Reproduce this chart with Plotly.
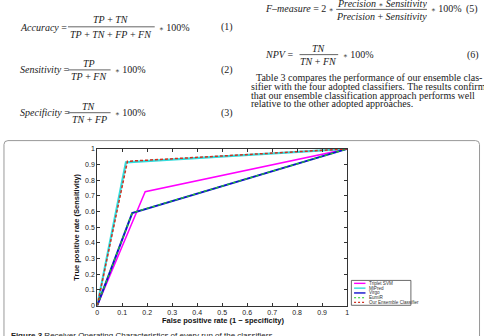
import plotly.graph_objects as go

W, H = 484, 336

# ROC data (false positive rate, true positive rate)
classifiers = ["Triplet SVM", "MiPred", "Virgo", "EumiR", "Our Ensemble Classifier"]
fpr_triplet = [0, 0.192, 1]
tpr_triplet = [0, 0.727, 1]
fpr_mipred = [0, 0.115, 1]
tpr_mipred = [0, 0.914, 1]
fpr_virgo = [0, 0.140, 1]
tpr_virgo = [0, 0.590, 1]
fpr_eumir = [0, 0.140, 1]
tpr_eumir = [0, 0.592, 1]
fpr_ens = [0, 0.121, 1]
tpr_ens = [0, 0.921, 1]
tick_vals = [0, 0.1, 0.2, 0.3, 0.4, 0.5, 0.6, 0.7, 0.8, 0.9, 1]
tick_text = ["0", "0.1", "0.2", "0.3", "0.4", "0.5", "0.6", "0.7", "0.8", "0.9", "1"]

def px(x):
    return x / W

def py(y):
    return 1 - y / H

styles = [
    dict(color="#ff00ff", width=1.5, dash="solid"),
    dict(color="#33dddd", width=2.2, dash="solid"),
    dict(color="#1010cc", width=2.0, dash="solid"),
    dict(color="#22cc22", width=1.3, dash="3px,3px"),
    dict(color="#d03020", width=1.5, dash="3px,2px"),
]
series = [
    (fpr_triplet, tpr_triplet),
    (fpr_mipred, tpr_mipred),
    (fpr_virgo, tpr_virgo),
    (fpr_eumir, tpr_eumir),
    (fpr_ens, tpr_ens),
]

fig = go.Figure()
for name, (xs, ys), st in zip(classifiers, series, styles):
    fig.add_trace(go.Scatter(x=xs, y=ys, mode="lines", name=name, line=st,
                             showlegend=False))

axis_common = dict(range=[0, 1], tickvals=tick_vals, ticktext=tick_text,
                   ticks="inside", ticklen=3, tickwidth=0.8, tickcolor="#333",
                   showline=True, linecolor="#333", linewidth=1, mirror="ticks",
                   showgrid=False, zeroline=False,
                   tickfont=dict(family="Liberation Sans", size=7, color="#222"))

fig.update_layout(
    width=W, height=H, margin=dict(l=0, r=0, t=0, b=0),
    paper_bgcolor="white", plot_bgcolor="white",
    xaxis=dict(domain=[px(96), px(348)], **axis_common),
    yaxis=dict(domain=[py(308), py(148)], **axis_common),
)

shapes = []
annotations = []

def text(x, y, s, size=10, family="Liberation Serif", xanchor="center", color="#222",
         angle=0, height=None):
    a = dict(x=px(x), y=py(y), xref="paper", yref="paper", text=s,
             showarrow=False, xanchor=xanchor, yanchor="middle",
             font=dict(family=family, size=size, color=color),
             textangle=angle)
    if height is not None:
        a["height"] = height
    annotations.append(a)

def hline(x0, x1, y, color="#222", width=0.7, dash="solid"):
    shapes.append(dict(type="line", xref="paper", yref="paper",
                       x0=px(x0), x1=px(x1), y0=py(y), y1=py(y),
                       line=dict(color=color, width=width, dash=dash)))

STAR = "<span style='font-family:DejaVu Serif;font-size:7px'>∗</span>"
TIMES100 = STAR + " 100%"

# ---- equations (left column)
text(16.5, 24, "<i>Accuracy</i> =", xanchor="left")
text(110, 15.5, "<i>TP</i> + <i>TN</i>")
hline(66.5, 154, 23.3)
text(110, 31, "<i>TP</i> + <i>TN</i> + <i>FP</i> + <i>FN</i>")
text(156.5, 24, TIMES100, xanchor="left")
text(235, 24, "(1)", xanchor="right")

text(16.5, 67.3, "<i>Sensitivity</i> =", xanchor="left")
text(88, 60.5, "<i>TP</i>")
hline(66.5, 109.5, 67.3)
text(88, 74.5, "<i>TP</i> + <i>FN</i>")
text(112, 67.3, TIMES100, xanchor="left")
text(235, 67.3, "(2)", xanchor="right")

text(16.5, 111, "<i>Specificity</i> =", xanchor="left")
text(88, 104.3, "<i>TN</i>")
hline(66.5, 109.5, 111)
text(88, 118.3, "<i>TN</i> + <i>FP</i>")
text(112, 111, TIMES100, xanchor="left")
text(235, 111, "(3)", xanchor="right")

# ---- equations (right column)
text(263.5, 5, "<i>F–measure</i> = 2 " + STAR, xanchor="left")
text(383, -1, "<i>Precision</i> " + STAR + " <i>Sensitivity</i>", height=9)
hline(337, 428.5, 5.5)
text(383, 12.5, "<i>Precision</i> + <i>Sensitivity</i>")
text(430.5, 5, TIMES100, xanchor="left")
text(482, 5, "(5)", xanchor="right")

text(263.5, 51.7, "<i>NPV</i> =", xanchor="left")
text(319.5, 45, "<i>TN</i>")
hline(300, 339, 51.7)
text(319.5, 58.5, "<i>TN</i> + <i>FN</i>")
text(341.5, 51.7, TIMES100, xanchor="left")
text(483, 51.7, "(6)", xanchor="right")

# ---- paragraph
para = [
    (254.5, 75, "Table 3 compares the performance of our ensemble clas-"),
    (249.3, 84, "sifier with the four adopted classifiers. The results confirm"),
    (249.3, 93.3, "that our ensemble classification approach performs well"),
    (249.3, 101.7, "relative to the other adopted approaches."),
]
for x, y, s in para:
    text(x, y, s, size=10.0, family="Liberation Serif", xanchor="left")

# ---- figure frame
x0, x1, y0, y1, r = 2, 481.5, 139.5, 345, 4
path = (f"M {px(x0 + r)},{py(y0)} L {px(x1 - r)},{py(y0)} "
        f"Q {px(x1)},{py(y0)} {px(x1)},{py(y0 + r)} L {px(x1)},{py(y1)} "
        f"L {px(x0)},{py(y1)} L {px(x0)},{py(y0 + r)} "
        f"Q {px(x0)},{py(y0)} {px(x0 + r)},{py(y0)} Z")
shapes.append(dict(type="path", xref="paper", yref="paper", path=path,
                   line=dict(color="#999", width=1)))

# ---- axis titles
text(223, 323.5, "<b>False positive rate (1 − specificity)</b>", size=7.5,
     family="Liberation Sans", color="#111")
text(75, 228, "<b>True positive rate (Sensitivity)</b>", size=7.5,
     family="Liberation Sans", color="#111", angle=-90)

# ---- legend (drawn by hand: tiny entries)
shapes.append(dict(type="rect", xref="paper", yref="paper",
                   x0=px(352.3), x1=px(412.3), y0=py(282.3), y1=py(307.7),
                   fillcolor="white", line=dict(color="#444", width=0.8)))
leg_y = [285.3, 290.2, 295.1, 300.0, 304.8]
for name, st, yy in zip(classifiers, styles, leg_y):
    dash = st["dash"] if st["dash"] == "solid" else "2px,2px"
    hline(355, 366.5, yy, color=st["color"], width=1.4 if st["dash"] == "solid" else 1.2,
          dash=dash)
    text(368, yy, name, size=4.6, family="Liberation Sans", xanchor="left", color="#333")

# ---- caption (cut off at bottom, as in the page)
text(7, 338.5, "<b>Figure 3</b> Receiver Operating Characteristics of every run of the classifiers",
     size=8, family="Liberation Sans", xanchor="left", color="#222")

fig.update_layout(shapes=shapes, annotations=annotations)
fig.write_html("out.html")
